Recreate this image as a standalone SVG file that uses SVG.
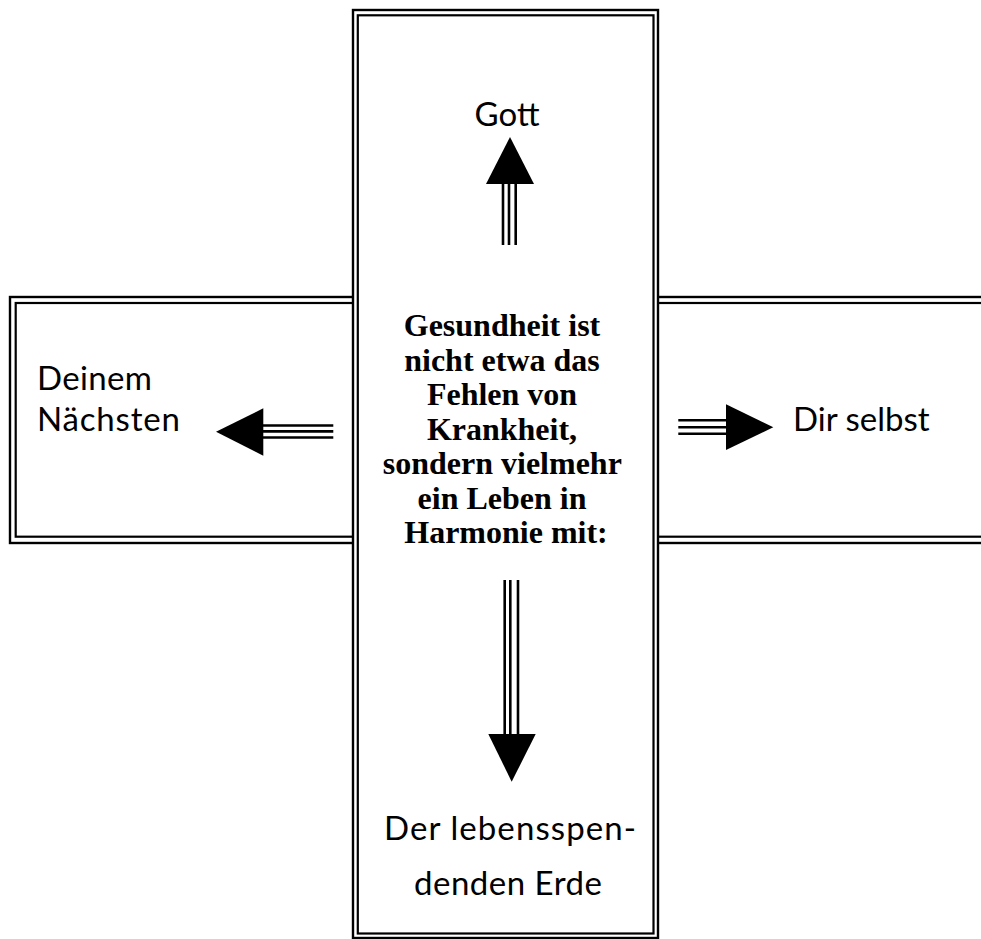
<svg xmlns="http://www.w3.org/2000/svg" width="981" height="939" viewBox="0 0 981 939">
<style>
.frame{fill:none;stroke:#000}
.fill{fill:#fff}
.label{font-family:Lato,"Noto Sans",sans-serif;font-size:33px;fill:#000}
.main{font-family:"Liberation Serif","Times New Roman",serif;font-size:32px;font-weight:bold;fill:#000;text-anchor:middle}
.shaft{stroke:#000;stroke-width:2.6;fill:none}
.head{fill:#000}
</style>
<rect width="981" height="939" fill="#fff"/>
<g id="horizontal-box">
  <rect class="frame" x="10" y="297" width="990" height="246" stroke-width="2.4"/>
  <rect class="frame" x="15.7" y="303" width="990" height="233.7" stroke-width="2.2"/>
</g>
<g id="vertical-box">
  <rect class="fill" x="353" y="10" width="305" height="928"/>
  <rect class="frame" x="353" y="10" width="305" height="928" stroke-width="2.4"/>
  <rect class="frame" x="357.8" y="15.3" width="295.7" height="918.2" stroke-width="2.2"/>
  <text class="main">
    <tspan x="506" y="336">Gesundheit ist</tspan>
    <tspan x="506" y="370.5">nicht etwa das</tspan>
    <tspan x="506" y="405">Fehlen von</tspan>
    <tspan x="506" y="439.5">Krankheit,</tspan>
    <tspan x="506" y="474">sondern vielmehr</tspan>
    <tspan x="506" y="508.5">ein Leben in</tspan>
    <tspan x="506" y="543">Harmonie mit:</tspan>
  </text>
</g>
<g id="node-gott">
  <text class="label" x="507" y="126" text-anchor="middle">Gott</text>
</g>
<g id="node-naechsten">
  <text class="label" x="37" y="390" textLength="115">Deinem</text>
  <text class="label" x="37" y="431" textLength="143">Nächsten</text>
</g>
<g id="node-selbst">
  <text class="label" x="793" y="431">Dir selbst</text>
</g>
<g id="node-erde">
  <text class="label" x="384" y="840" textLength="252">Der lebensspen-</text>
  <text class="label" x="414" y="895" textLength="188">denden Erde</text>
</g>
<g id="connectors">
  <g id="arrow-up">
    <path class="shaft" d="M503 183V245M509 183V245M515.7 183V245"/>
    <polygon class="head" points="486,184 534,184 510,137"/>
  </g>
  <g id="arrow-down">
    <path class="shaft" d="M504.7 580V734M510.3 580V734M518 580V734"/>
    <polygon class="head" points="488.3,734 535.7,734 511.7,781.7"/>
  </g>
  <g id="arrow-left">
    <path class="shaft" d="M263 425.5H333.3M263 431.4H333.3M263 437.5H333.3"/>
    <polygon class="head" points="263.3,408.3 263.3,455.7 216,431.7"/>
  </g>
  <g id="arrow-right">
    <path class="shaft" d="M678.3 420.2H726M678.3 427.2H726M678.3 433.8H726"/>
    <polygon class="head" points="726,404.3 726,450 773.3,427.3"/>
  </g>
</g>
</svg>
